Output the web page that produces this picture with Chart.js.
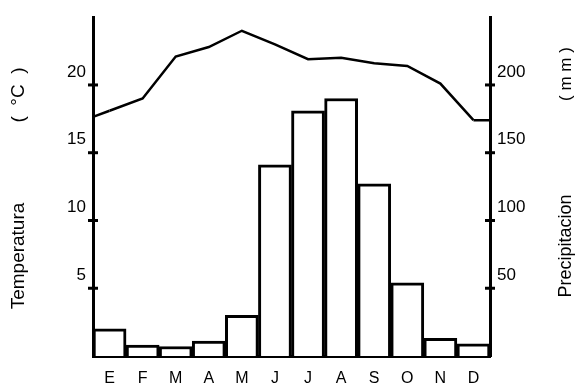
<!DOCTYPE html>
<html>
<head>
<meta charset="utf-8">
<script src="https://cdn.jsdelivr.net/npm/chart.js@4"></script>
<style>
  html, body { margin: 0; padding: 0; background: #fff; }
  #wrap { width: 578px; height: 388px; }
</style>
</head>
<body>
<div id="wrap"><canvas id="climo"></canvas></div>
<script>
"use strict";

const months = ['E', 'F', 'M', 'A', 'M', 'J', 'J', 'A', 'S', 'O', 'N', 'D'];
const precipitacion = [20, 8, 7, 11, 30, 141, 181, 190, 127, 54, 13, 9];
const temperatura = [18.1, 19.0, 22.1, 22.8, 24.0, 23.0, 21.9, 22.0, 21.6, 21.4, 20.1, 17.4];
const tempTicks = [5, 10, 15, 20];
const precTicks = [50, 100, 150, 200];

const font = 'Liberation Sans, Arial, sans-serif';

// cross-shaped tick marks, line ends and rotated titles
const extras = {
    id: 'extras',
    afterDatasetsDraw(chart) {
        const ctx = chart.ctx;
        const area = chart.chartArea;
        const pts = chart.getDatasetMeta(1).data;
        if (pts.length < 2) return;
        const a = pts[0], b = pts[1], z = pts[pts.length - 1];
        const yStart = a.y - (b.y - a.y) * (a.x - area.left) / (b.x - a.x);
        ctx.save();
        ctx.strokeStyle = '#000';
        ctx.lineWidth = 2.5;
        ctx.lineJoin = 'round';
        ctx.beginPath();
        ctx.moveTo(area.left, yStart);
        ctx.lineTo(a.x, a.y);
        ctx.moveTo(z.x, z.y);
        ctx.lineTo(area.right, z.y);
        ctx.stroke();
        ctx.restore();
    },
    afterDraw(chart) {
        const ctx = chart.ctx;
        const area = chart.chartArea;
        ctx.save();
        ctx.strokeStyle = '#000';
        ctx.lineWidth = 3;
        [['yT', area.left], ['yP', area.right]].forEach(([id, x]) => {
            const s = chart.scales[id];
            s.ticks.forEach(t => {
                const y = s.getPixelForValue(t.value);
                ctx.beginPath();
                ctx.moveTo(x - 5, y);
                ctx.lineTo(x + 5, y);
                ctx.stroke();
            });
        });

        ctx.fillStyle = '#000';
        ctx.textAlign = 'center';
        ctx.textBaseline = 'middle';
        const rot = (txt, x, y, size) => {
            ctx.save();
            ctx.font = size + 'px ' + font;
            ctx.translate(x, y);
            ctx.rotate(-Math.PI / 2);
            ctx.fillText(txt, 0, 0);
            ctx.restore();
        };
        rot('Temperatura', 19, 256, 19);
        rot('(  °C  )', 19, 95, 19);
        rot('Precipitacion', 566, 246, 18);
        rot('( m m )', 566, 74, 17);
        ctx.restore();
    }
};

new Chart(document.getElementById('climo'), {
    type: 'bar',
    data: {
        labels: months,
        datasets: [
            {
                label: 'Precipitacion (mm)',
                data: precipitacion,
                yAxisID: 'yP',
                backgroundColor: '#fff',
                borderColor: '#000',
                borderWidth: 3,
                barPercentage: 1,
                categoryPercentage: 1,
                order: 2
            },
            {
                type: 'line',
                label: 'Temperatura (°C)',
                data: temperatura,
                yAxisID: 'yT',
                borderColor: '#000',
                borderWidth: 2.5,
                pointRadius: 0,
                tension: 0,
                fill: false,
                order: 1
            }
        ]
    },
    options: {
        responsive: true,
        maintainAspectRatio: false,
        animation: false,
        layout: { padding: { top: 12, left: 0, right: 0, bottom: 0 } },
        plugins: {
            legend: { display: false },
            tooltip: { enabled: false }
        },
        scales: {
            x: {
                grid: { display: false },
                border: { display: true, color: '#000', width: 3 },
                ticks: { color: '#000', padding: 5, font: { family: font, size: 16 } },
                afterFit: s => { s.height = 32; }
            },
            yT: {
                position: 'left',
                min: 0,
                max: 25,
                afterBuildTicks: s => { s.ticks = tempTicks.map(v => ({ value: v })); },
                grid: { display: false, drawTicks: false },
                border: { display: true, color: '#000', width: 3 },
                ticks: { color: '#000', padding: 7, labelOffset: -13, font: { family: font, size: 17 } },
                afterFit: s => { s.width = 93; }
            },
            yP: {
                position: 'right',
                min: 0,
                max: 250,
                afterBuildTicks: s => { s.ticks = precTicks.map(v => ({ value: v })); },
                grid: { display: false, drawTicks: false },
                border: { display: true, color: '#000', width: 3 },
                ticks: { color: '#000', padding: 7, labelOffset: -13, font: { family: font, size: 17 } },
                afterFit: s => { s.width = 88; }
            }
        }
    },
    plugins: [extras]
});
</script>
</body>
</html>
